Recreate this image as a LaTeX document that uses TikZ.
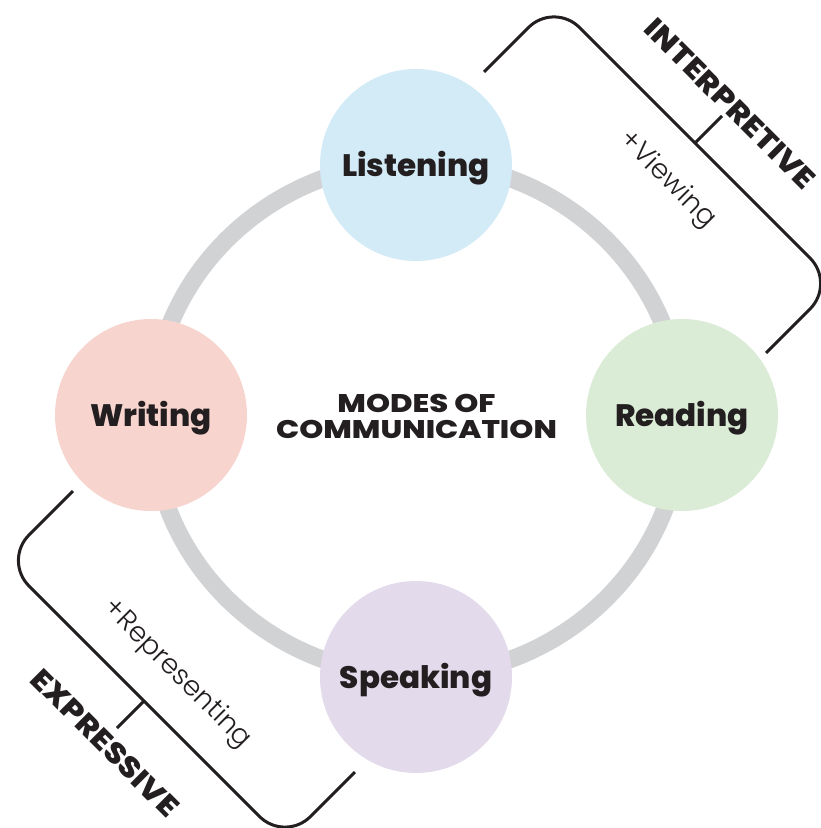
\documentclass[tikz,border=0pt]{standalone}
\usepackage{fontspec}
\setmainfont{Poppins}[BoldFont={* Bold}]
\newfontfamily\heavyfont{Poppins}[UprightFont={* ExtraBold}]
\newfontfamily\heavywide{Poppins}[UprightFont={* ExtraBold}, FakeStretch=1.2]
\newfontfamily\heavymid{Poppins}[UprightFont={* ExtraBold}, FakeStretch=1.13]
\newfontfamily\lightfont{Poppins}[UprightFont={* Light}]
\definecolor{listencol}{HTML}{D3EBF7}
\definecolor{writecol}{HTML}{F8D4CF}
\definecolor{readcol}{HTML}{DAEBD6}
\definecolor{speakcol}{HTML}{E3DAEC}
\definecolor{ringcol}{HTML}{D1D2D4}
\definecolor{ink}{HTML}{231F20}
\tikzset{
  mode/.style={circle, minimum size=192pt, inner sep=0pt, text=ink,
    font=\heavyfont\fontsize{31}{31}\selectfont, text height=22pt, text depth=0pt},
  ringline/.style={draw=ringcol, line width=17.5pt},
  bracket/.style={draw=ink, line width=3pt, rounded corners=36pt},
  tickline/.style={draw=ink, line width=3pt},
  grouplabel/.style={rotate=-45, text=ink, inner sep=0pt,
    font=\heavymid\fontsize{29}{29}\selectfont},
  extralabel/.style={rotate=-45, text=ink, inner sep=0pt,
    font=\lightfont\fontsize{27.5}{27.5}\selectfont},
  titlelabel/.style={align=center, text=ink, inner sep=0pt,
    font=\heavywide\fontsize{25.5}{26}\selectfont}
}
\begin{document}
\begin{tikzpicture}[x=1pt,y=-1pt]
\useasboundingbox (0,0) rectangle (820,828);
% ring
\draw[ringline] (416.5,419) ellipse [x radius=265, y radius=257];
% modes
\node[mode, fill=listencol] (listen) at (416,165) {Listening};
\node[mode, fill=readcol] (read) at (682,415) {Reading};
\node[mode, fill=speakcol] (speak) at (416,677) {Speaking};
\node[mode, fill=writecol] (write) at (151,415) {Writing};
\node[titlelabel] (title) at (416.5,416.5) {MODES OF\\COMMUNICATION};
% interpretive bracket
\coordinate (iA) at (484,72);
\coordinate (iB) at (554,2);
\coordinate (iC) at (835.5,283.5);
\coordinate (iD) at (766,353);
\coordinate (iT) at (695,143);
\coordinate (iE) at (722,116);
\draw[bracket] (iA) -- (iB) -- (iC) -- (iD);
\draw[tickline] (iT) -- (iE);
\node[grouplabel] (interp) at (730,104) {INTERPRETIVE};
\node[extralabel] (view) at (667,180) {+Viewing};
% expressive bracket
\coordinate (eA) at (355,772);
\coordinate (eB) at (285,842);
\coordinate (eC) at (3.5,560.5);
\coordinate (eD) at (73,491);
\coordinate (eT) at (144,701);
\coordinate (eE) at (117,728);
\draw[bracket] (eA) -- (eB) -- (eC) -- (eD);
\draw[tickline] (eT) -- (eE);
\node[grouplabel] (expr) at (105,743) {EXPRESSIVE};
\node[extralabel] (repr) at (177,674) {+Representing};
\end{tikzpicture}
\end{document}
